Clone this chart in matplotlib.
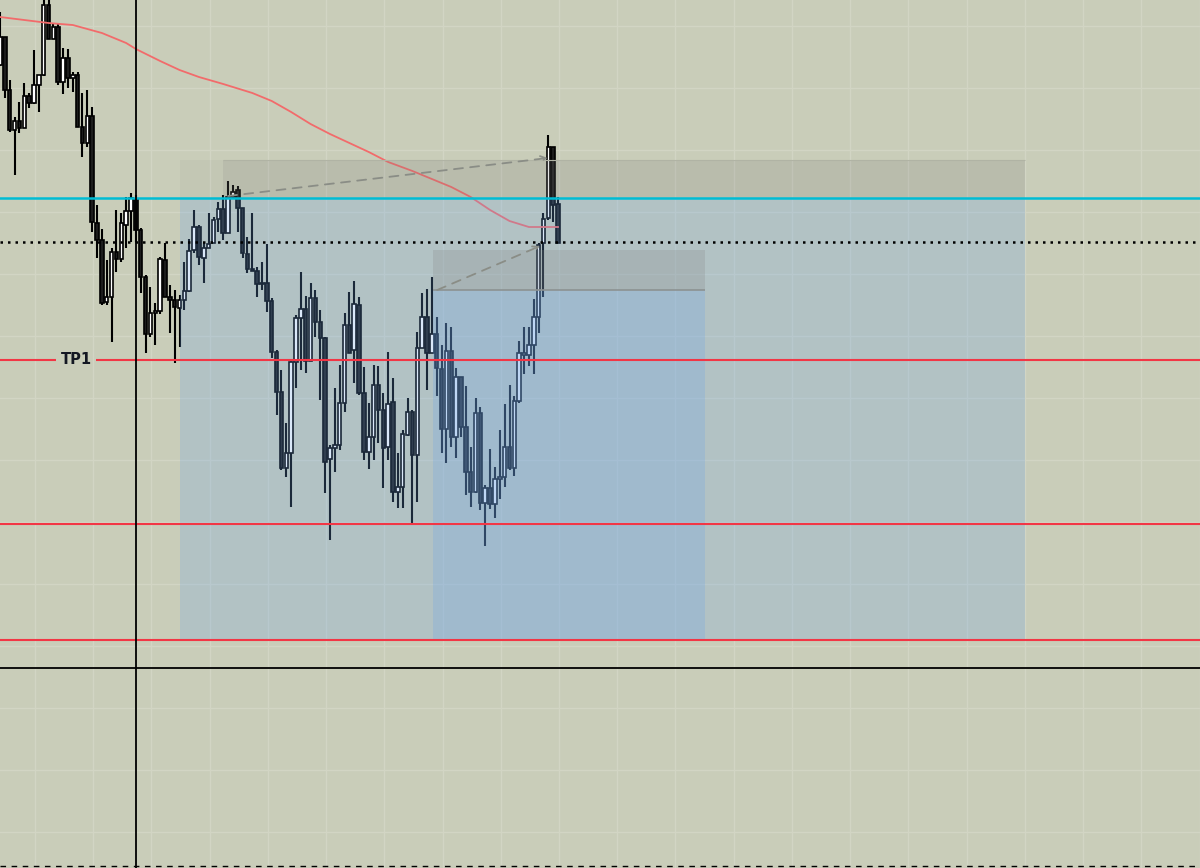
import matplotlib
matplotlib.use("Agg")
import numpy as np
import matplotlib.pyplot as plt
from matplotlib.patches import Rectangle

# OHLC per bar (price units)
opens = [935, 963, 910, 870, 879, 872, 904, 897, 915, 925,
         995, 961, 973, 918, 942, 922, 925, 873, 857, 884,
         777, 760, 698, 703, 748, 741, 775, 789, 801, 770,
         723, 666, 687, 689, 740, 703, 700, 692, 700, 709,
         750, 773, 742, 752, 757, 781, 791, 767, 803, 810,
         792, 746, 731, 729, 717, 717, 699, 648, 608, 532,
         547, 638, 682, 691, 639, 702, 678, 662, 541, 552,
         555, 597, 675, 650, 695, 607, 548, 563, 615, 590,
         553, 598, 508, 513, 565, 588, 545, 652, 683, 647,
         666, 631, 571, 649, 563, 623, 573, 528, 508, 587,
         497, 512, 496, 521, 523, 553, 532, 599, 645, 645,
         655, 683, 757, 782, 853, 796]
highs = [988, 963, 920, 883, 898, 917, 907, 950, 925, 1000,
         1000, 976, 976, 952, 951, 928, 928, 907, 910, 893,
         795, 771, 740, 752, 790, 787, 803, 807, 805, 772,
         725, 713, 697, 743, 757, 715, 710, 705, 738, 761,
         790, 775, 757, 787, 783, 798, 805, 819, 815, 814,
         792, 763, 787, 733, 738, 756, 702, 650, 630, 577,
         640, 685, 728, 704, 717, 710, 690, 663, 555, 612,
         635, 687, 708, 719, 703, 633, 597, 635, 634, 607,
         648, 622, 547, 570, 602, 590, 668, 707, 711, 723,
         683, 655, 677, 673, 632, 623, 614, 553, 602, 593,
         515, 551, 533, 570, 596, 615, 604, 659, 673, 673,
         701, 757, 787, 865, 853, 803]
lows = [934, 902, 868, 825, 867, 872, 892, 896, 888, 924,
        961, 961, 915, 906, 912, 908, 873, 843, 853, 768,
        742, 695, 695, 658, 728, 738, 752, 758, 758, 707,
        647, 663, 655, 686, 703, 667, 637, 653, 690, 708,
        747, 735, 717, 752, 757, 768, 760, 767, 802, 768,
        742, 727, 729, 703, 710, 688, 642, 585, 530, 523,
        493, 612, 630, 627, 639, 663, 600, 507, 460, 528,
        550, 588, 647, 617, 605, 540, 531, 540, 557, 512,
        540, 498, 492, 492, 564, 476, 498, 652, 610, 647,
        604, 547, 537, 553, 542, 563, 505, 493, 507, 490,
        454, 491, 482, 501, 513, 530, 524, 597, 626, 634,
        626, 667, 703, 780, 778, 757]
closes = [963, 910, 870, 879, 872, 904, 897, 915, 925, 995,
          961, 973, 918, 942, 922, 925, 873, 857, 884, 778,
          760, 697, 703, 748, 741, 777, 789, 802, 770, 723,
          666, 687, 689, 741, 703, 700, 693, 700, 709, 749,
          773, 743, 752, 756, 780, 791, 767, 803, 808, 792,
          747, 731, 729, 716, 716, 699, 648, 608, 532, 547,
          638, 682, 691, 639, 702, 678, 662, 538, 552, 555,
          597, 675, 647, 696, 607, 548, 563, 615, 590, 552,
          596, 508, 513, 566, 588, 545, 652, 683, 647, 666,
          632, 571, 649, 563, 623, 573, 528, 508, 587, 497,
          512, 496, 521, 523, 553, 532, 599, 647, 647, 655,
          683, 755, 781, 853, 795, 757]

# moving average (red curve), sampled at a few bars
ma_bars = [0, 10, 15, 21, 26, 28, 33, 37, 41, 46, 52, 56, 60, 64,
           68, 72, 76, 80, 85, 89, 93, 97, 101, 105, 109, 115]
ma_vals = [983, 977, 975, 967, 957, 951, 939, 930, 923, 916, 907, 899, 888, 876,
           866, 857, 848, 838, 829, 821, 813, 803, 790, 779, 773, 773]

cyan_level = 802
entry_level = 758
tp_levels = [640, 476, 360]
tp_label = "TP1"
cross_level = 332
cross_bar = 28
bottom_level = 134

# zones: (first bar, last bar, low, high)
wide_zone = (37.1, 211.3, 360, 802)
wide_top = (37.1, 211.3, 802, 840)
wide_cap = (46.0, 211.3, 802, 840)
inner_zone = (89.2, 145.3, 360, 710)
inner_cap = (89.2, 145.3, 710, 750)

# dashed arrows: (start bar, start price, end bar, end price)
arrows = [(47.0, 804, 112.9, 842), (90.1, 710, 111.3, 754)]

bg = "#c9cdb9"
fig = plt.figure(figsize=(12, 8.68), dpi=100)
ax = fig.add_axes([0, 0, 1, 1])
fig.patch.set_facecolor(bg)
ax.set_facecolor(bg)
ax.set_xlim(0, 247.3)
ax.set_ylim(132, 1000)
for s in ax.spines.values():
    s.set_visible(False)
ax.set_xticks(np.arange(7.2, 247.3, 12))
ax.set_yticks(np.arange(168, 1000, 62))
ax.tick_params(length=0, labelbottom=False, labelleft=False)
ax.grid(color="#d2d5c4", lw=1)
ax.set_axisbelow(True)

# candles
x = np.arange(len(opens))
o = np.array(opens); h = np.array(highs); l = np.array(lows); c = np.array(closes)
ax.vlines(x, l, h, color="black", lw=1.5, zorder=2)
up = c >= o
body_lo = np.minimum(o, c)
body_h = np.maximum(np.abs(c - o), 1.5)
ax.bar(x[up], body_h[up], bottom=body_lo[up], width=0.72, color="white",
       edgecolor="black", lw=1.2, zorder=2.5)
ax.bar(x[~up], body_h[~up], bottom=body_lo[~up], width=0.72, color="#1c1c1c",
       edgecolor="black", lw=1.2, zorder=2.5)

# MA
ax.plot(ma_bars, ma_vals, color="#f26b6b", lw=1.3, zorder=3)

# zones
def zone(z, color, alpha):
    x0, x1, y0, y1 = z
    ax.add_patch(Rectangle((x0, y0), x1 - x0, y1 - y0, facecolor=color,
                           edgecolor="none", alpha=alpha, zorder=3.5))

zone(wide_zone, "#6ea4e8", 0.25)
zone(wide_top, "#808080", 0.07)
zone(wide_cap, "#808080", 0.14)
zone(inner_zone, "#6ea4e8", 0.25)
zone(inner_cap, "#808080", 0.22)
ax.hlines(inner_cap[2], inner_cap[0], inner_cap[1], color="#8c9292", lw=1.2, zorder=3.6)
ax.hlines(wide_cap[3], wide_cap[0], wide_cap[1], color="#b0b3a4", lw=0.8, zorder=3.6)

for x0, y0, x1, y1 in arrows:
    ax.annotate("", xy=(x1, y1), xytext=(x0, y0),
                arrowprops=dict(arrowstyle="->", color="#8a8d86", lw=1.3,
                                linestyle=(0, (5, 4)), shrinkA=0, shrinkB=0),
                zorder=4)

# levels
ax.axhline(cyan_level, color="#00bcd4", lw=1.8, zorder=4)
ax.axhline(entry_level, color="black", lw=1.8, linestyle=(0, (1, 2)), zorder=4)
ax.hlines(tp_levels[0], 0, 11.5, color="#f23645", lw=1.5, zorder=4)
ax.hlines(tp_levels[0], 19.8, 247.3, color="#f23645", lw=1.5, zorder=4)
for lvl in tp_levels[1:]:
    ax.axhline(lvl, color="#f23645", lw=1.5, zorder=4)
ax.text(15.7, tp_levels[0], tp_label, ha="center", va="center", fontsize=10.5,
        fontweight="bold", color="#131722", zorder=5)

ax.axhline(cross_level, color="black", lw=1.3, zorder=4)
ax.axvline(cross_bar, color="black", lw=1.3, zorder=4)
ax.axhline(bottom_level, color="black", lw=1.0, linestyle=(0, (4, 4)), zorder=4)

fig.savefig("out.png", dpi=100, facecolor=bg)
